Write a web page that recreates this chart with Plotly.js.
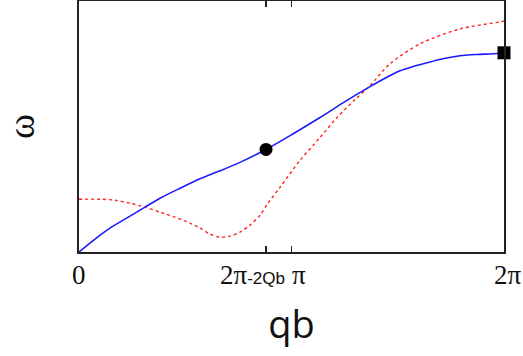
<!DOCTYPE html>
<html>
<head>
<meta charset="utf-8">
<script src="https://cdn.plot.ly/plotly-3.0.1.min.js"></script>
<style>html,body{margin:0;padding:0;background:#fff;}#chart{width:523px;height:356px;}</style>
</head>
<body>
<div id="chart"></div>
<script>
// ---- data ----
var TWO_PI = 2 * Math.PI;
var XQ = 2.765; // 2π-2Qb
var blueX = [0, 0.2365, 0.4583, 0.7540, 0.9757, 1.1975, 1.4932, 1.7888, 2.0845, 2.3802, 2.7646, 3.1490, 3.5630, 3.9326, 4.3021, 4.5239, 4.7456, 4.9378, 5.1448, 5.3814, 5.6327, 5.8840, 6.1205, 6.2832];
var blueY = [0, 0.0516, 0.0952, 0.1429, 0.1786, 0.2143, 0.2540, 0.2917, 0.3234, 0.3571, 0.4087, 0.4683, 0.5357, 0.5992, 0.6587, 0.6925, 0.7222, 0.7389, 0.7540, 0.7698, 0.7817, 0.7869, 0.7897, 0.7937];
var redX = [0, 0.3105, 0.5322, 0.7540, 0.9757, 1.1975, 1.4193, 1.6410, 1.7888, 1.9367, 2.0845, 2.2324, 2.3802, 2.5281, 2.6759, 2.7942, 2.9716, 3.2673, 3.5630, 3.8143, 4.0804, 4.3021, 4.5978, 5.0413, 5.6327, 6.2240, 6.2832];
var redY = [0.2103, 0.2103, 0.2063, 0.1944, 0.1786, 0.1587, 0.1389, 0.1151, 0.0952, 0.0714, 0.0595, 0.0635, 0.0794, 0.1071, 0.1468, 0.1944, 0.2579, 0.3651, 0.4563, 0.5357, 0.6071, 0.6627, 0.7500, 0.8294, 0.8889, 0.9167, 0.9206];
var circleX = [XQ], circleY = [0.4087];
var squareX = [TWO_PI], squareY = [0.7937];
var tickVals = [0, XQ, Math.PI, TWO_PI];
var tickLabels = ['0', '2π<span style="font-family:\'Liberation Sans\',sans-serif;font-size:17px">-2Qb</span>', 'π', '2π'];
var tickShift = [0, -14, 7, 4];

var traces = [
  {x: redX, y: redY, mode: 'lines', line: {color: '#ff2020', width: 1.4, dash: 'dot', shape: 'spline', smoothing: 0.8}, hoverinfo: 'none'},
  {x: blueX, y: blueY, mode: 'lines', line: {color: '#1a1aff', width: 1.6, shape: 'spline', smoothing: 0.8}, hoverinfo: 'none'},
  {x: circleX, y: circleY, mode: 'markers', marker: {symbol: 'circle', size: 13, color: '#000'}, cliponaxis: false},
  {x: squareX, y: squareY, mode: 'markers', marker: {symbol: 'square', size: 13, color: '#000'}, cliponaxis: false}
];

var annotations = tickVals.map(function (v, i) {
  return {x: v, y: 0, xref: 'x', yref: 'paper', text: tickLabels[i], showarrow: false,
    xanchor: 'center', yanchor: 'top', yshift: -6, xshift: tickShift[i],
    font: {family: '"Liberation Serif", "Times New Roman", serif', size: 27, color: '#111'}};
});

var layout = {
  width: 523, height: 356,
  margin: {l: 79, r: 19, t: 1, b: 104},
  paper_bgcolor: '#fff', plot_bgcolor: '#fff',
  showlegend: false,
  xaxis: {range: [0, TWO_PI], showline: true, linecolor: '#222', linewidth: 2, mirror: 'ticks',
    ticks: 'inside', ticklen: 6, tickwidth: 1.2, tickcolor: '#222', tickvals: tickVals,
    showticklabels: false, showgrid: false, zeroline: false, fixedrange: true,
    title: {text: 'qb', font: {family: '"Open Sans", sans-serif', size: 38, color: '#111'}, standoff: 58}},
  yaxis: {range: [0, 1], showline: true, linecolor: '#222', linewidth: 2, mirror: true,
    ticks: '', showticklabels: false, showgrid: false, zeroline: false, fixedrange: true,
    title: {text: 'ω', font: {family: '"Liberation Serif", serif', size: 38, color: '#111'}, standoff: 46}},
  annotations: annotations
};

Plotly.newPlot('chart', traces, layout, {staticPlot: true, displayModeBar: false});
</script>
</body>
</html>
